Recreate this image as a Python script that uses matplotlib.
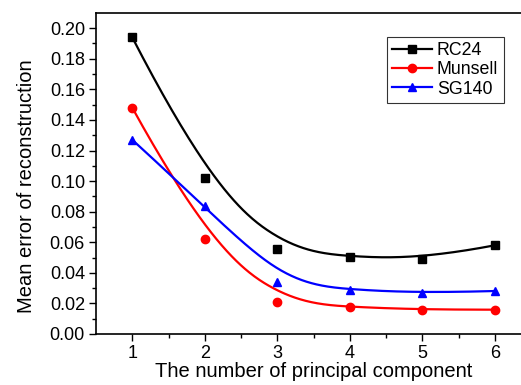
import numpy as np
import matplotlib
matplotlib.use("Agg")
import matplotlib.pyplot as plt

plt.rcParams["font.family"] = ["Liberation Sans", "DejaVu Sans"]

n_pc = [1, 2, 3, 4, 5, 6]
rc24 = [0.194, 0.102, 0.0555, 0.0503, 0.049, 0.058]
munsell = [0.148, 0.062, 0.021, 0.0176, 0.0159, 0.0159]
sg140 = [0.127, 0.0837, 0.034, 0.0288, 0.0268, 0.0281]


def bspline(xs, ys, k=3, num=300):
    # clamped uniform B-spline using the data points as control points
    P = np.column_stack([xs, ys]).astype(float)
    n = len(P)
    inner = np.arange(1, n - k)
    knots = np.concatenate([np.zeros(k + 1), inner, np.full(k + 1, n - k)]).astype(float)
    t = np.linspace(0, n - k, num)
    t[-1] -= 1e-9

    def basis(i, p, t):
        if p == 0:
            return ((knots[i] <= t) & (t < knots[i + 1])).astype(float)
        out = np.zeros_like(t)
        d1 = knots[i + p] - knots[i]
        d2 = knots[i + p + 1] - knots[i + 1]
        if d1 > 0:
            out += (t - knots[i]) / d1 * basis(i, p - 1, t)
        if d2 > 0:
            out += (knots[i + p + 1] - t) / d2 * basis(i + 1, p - 1, t)
        return out

    B = np.stack([basis(i, k, t) for i in range(n)], axis=1)
    C = B @ P
    return C[:, 0], C[:, 1]


fig = plt.figure(figsize=(5.21, 3.85), dpi=100)
ax = fig.add_axes([0.1843, 0.1325, 0.835, 0.834])

series = [("RC24", rc24, "black", "s"),
          ("Munsell", munsell, "red", "o"),
          ("SG140", sg140, "blue", "^")]
for name, vals, c, m in series:
    cx, cy = bspline(n_pc, vals)
    ax.plot(cx, cy, color=c, lw=1.6, zorder=2)
    ax.plot(n_pc, vals, ls="none", marker=m, color=c, ms=6, zorder=3)
    ax.plot([], [], color=c, lw=1.6, marker=m, ms=6, label=name)

ax.set_xlim(0.5, 6.5)
ax.set_ylim(0, 0.21)
ax.set_xticks(n_pc)
ax.set_xticks(np.arange(1.5, 6.5, 1.0), minor=True)
ax.set_yticks(np.arange(0, 0.201, 0.02))
ax.set_yticks(np.arange(0.01, 0.21, 0.02), minor=True)
ax.yaxis.set_major_formatter(matplotlib.ticker.FormatStrFormatter("%.2f"))
ax.tick_params(which="both", direction="out", top=False, right=False, labelsize=13, width=1)
ax.tick_params(which="major", length=5, pad=3)
ax.tick_params(which="minor", length=3)
for s in ax.spines.values():
    s.set_linewidth(1.2)
ax.set_xlabel("The number of principal component", fontsize=14.5, labelpad=0)
ax.set_ylabel("Mean error of reconstruction", fontsize=14.5, labelpad=10)
ax.yaxis.label.set_y(0.46)

leg = ax.legend(loc="upper left", bbox_to_anchor=(0.669, 0.925), fontsize=12.8,
                frameon=True, fancybox=False, edgecolor="black", handlelength=2.2,
                handletextpad=0.3, borderpad=0.3, labelspacing=0.12, borderaxespad=0)
leg.get_frame().set_linewidth(0.8)

fig.savefig("out.png", dpi=100)
